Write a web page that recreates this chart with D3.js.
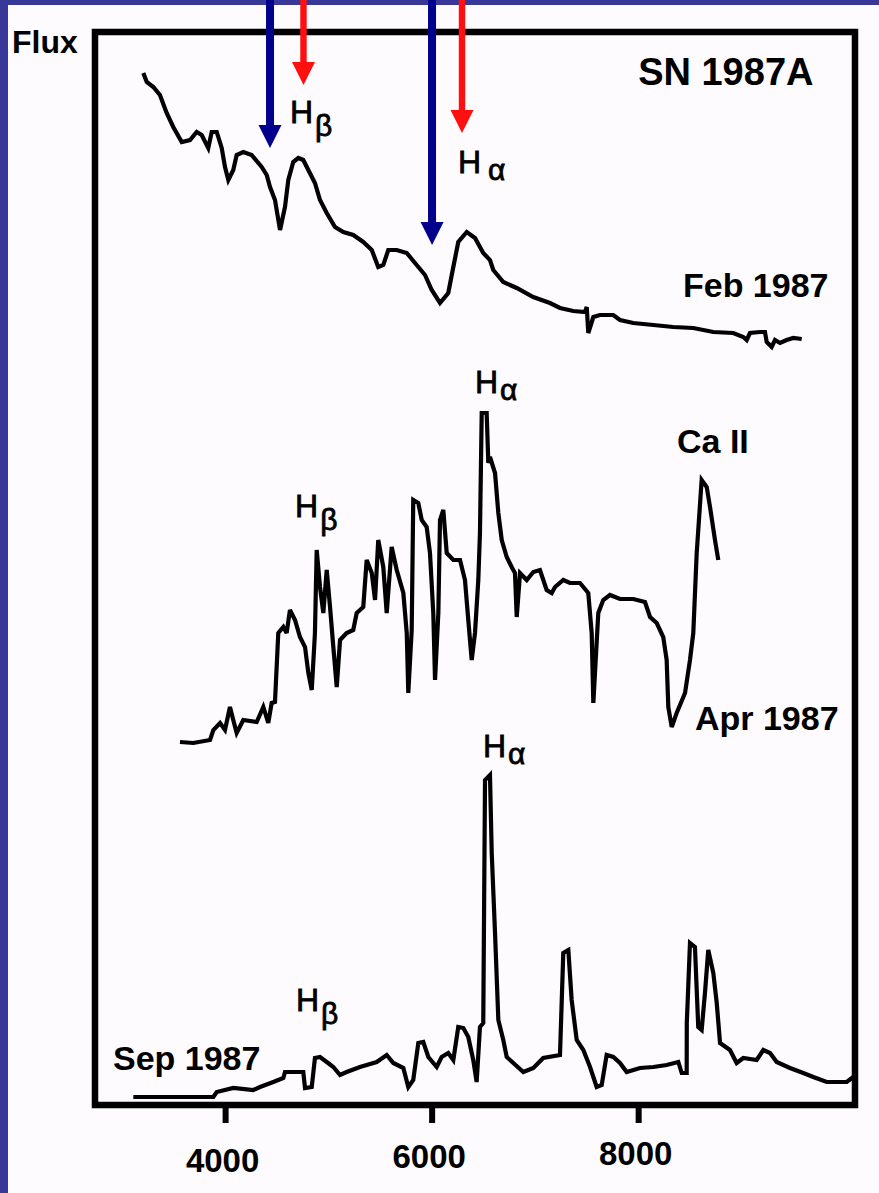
<!DOCTYPE html>
<html><head><meta charset="utf-8">
<script src="https://cdn.jsdelivr.net/npm/d3@7"></script>
<style>html,body{margin:0;padding:0;background:#fdfbfd;} svg{display:block;}</style>
</head><body>
<svg id="chart" width="879" height="1193"></svg>
<script>
// ---- data: [wavelength (Å), flux (arbitrary, stacked with offsets)] ----
const spectrumFeb = [[3208,103.2],[3241,102.3],[3305,101.8],[3369,101.0],[3434,99.2],[3498,97.8],[3580,96.3],[3660,96.5],[3725,97.3],[3773,97.0],[3837,95.7],[3870,97.3],[3919,97.3],[3967,95.7],[3999,93.8],[4031,92.5],[4079,93.5],[4112,95.0],[4176,95.3],[4257,95.0],[4354,93.8],[4403,93.0],[4435,91.8],[4483,90.5],[4532,87.5],[4580,89.8],[4612,92.5],[4660,94.3],[4709,94.7],[4757,94.5],[4806,93.5],[4870,92.2],[4919,90.5],[4984,89.2],[5064,87.8],[5145,87.3],[5241,87.0],[5338,86.3],[5420,85.5],[5483,83.8],[5532,84.0],[5580,85.5],[5662,85.5],[5759,85.2],[5855,84.0],[5936,83.0],[6001,81.5],[6081,80.2],[6161,81.2],[6210,83.8],[6258,86.3],[6340,87.3],[6420,86.7],[6500,85.2],[6565,84.5],[6597,83.5],[6694,82.3],[6824,81.7],[6984,80.8],[7146,80.2],[7243,79.7],[7372,79.4],[7485,79.3],[7502,79.8],[7517,77.2],[7566,78.8],[7630,79.0],[7759,79.0],[7824,78.5],[7953,78.2],[8147,78.0],[8340,77.8],[8534,77.7],[8728,77.3],[8921,77.2],[9018,76.8],[9051,76.5],[9083,77.2],[9180,77.3],[9228,77.3],[9245,76.3],[9293,75.8],[9325,76.5],[9374,76.2],[9438,76.5],[9502,76.7],[9584,76.6]];

const spectrumApr = [[3563,36.3],[3692,36.2],[3854,36.5],[3886,37.5],[3951,38.2],[3999,37.5],[4047,39.8],[4079,38.5],[4112,37.2],[4176,38.5],[4306,38.3],[4370,39.8],[4418,38.2],[4451,40.2],[4483,40.3],[4515,47.2],[4564,47.8],[4596,47.2],[4628,49.5],[4677,48.5],[4725,46.8],[4774,45.8],[4806,43.2],[4839,41.5],[4870,47.2],[4887,55.5],[4919,51.8],[4951,49.2],[4984,53.5],[5016,49.8],[5048,45.8],[5081,41.8],[5113,46.5],[5177,47.2],[5241,47.5],[5274,49.2],[5338,49.8],[5371,54.5],[5420,53.2],[5452,50.5],[5483,56.5],[5532,53.8],[5565,49.2],[5613,55.8],[5662,53.5],[5726,51.2],[5759,47.2],[5774,41.2],[5807,47.5],[5822,60.5],[5871,60.2],[5904,58.5],[5952,57.8],[5984,55.2],[6016,49.2],[6033,42.5],[6065,49.2],[6081,58.5],[6113,59.5],[6146,55.2],[6210,54.5],[6275,54.5],[6323,52.5],[6355,48.5],[6388,44.5],[6420,47.2],[6452,52.5],[6468,57.2],[6485,69.2],[6533,69.2],[6549,64.2],[6565,64.8],[6614,63.2],[6646,59.2],[6679,56.5],[6727,54.8],[6775,53.8],[6807,53.2],[6824,48.8],[6856,53.2],[6921,52.5],[6985,53.3],[7049,53.5],[7114,51.5],[7163,51.2],[7195,51.8],[7275,52.5],[7340,52.2],[7437,52.2],[7517,51.2],[7550,47.2],[7566,40.2],[7614,49.2],[7662,50.5],[7727,51.0],[7824,50.6],[7953,50.6],[8066,50.3],[8115,48.8],[8180,48.2],[8243,46.8],[8276,44.5],[8292,39.8],[8325,37.8],[8373,39.2],[8454,41.2],[8502,44.5],[8534,47.2],[8567,55.2],[8615,62.5],[8664,61.8],[8696,59.8],[8744,56.5],[8776,54.5]];

const spectrumSep = [[3111,0.8],[3886,0.8],[3919,1.3],[4079,1.7],[4273,1.5],[4338,1.8],[4467,2.3],[4564,2.7],[4580,3.3],[4757,3.3],[4774,1.7],[4839,1.8],[4870,4.7],[4919,4.8],[4984,4.3],[5048,3.8],[5113,3.0],[5177,3.3],[5306,3.8],[5468,4.3],[5565,5.0],[5629,4.2],[5726,3.7],[5774,1.8],[5822,2.5],[5871,6.2],[5919,6.3],[5968,4.8],[6049,3.8],[6097,4.8],[6161,5.2],[6210,4.5],[6258,7.8],[6307,7.7],[6355,6.8],[6403,4.5],[6436,2.3],[6468,7.8],[6500,8.2],[6517,32.5],[6565,33.0],[6582,25.2],[6614,17.2],[6646,8.5],[6694,6.5],[6727,4.8],[6791,4.2],[6888,3.3],[6985,3.7],[7081,4.7],[7243,5.0],[7275,15.2],[7324,15.5],[7356,10.5],[7405,6.5],[7469,5.5],[7534,3.8],[7598,1.8],[7647,2.0],[7695,5.0],[7759,4.8],[7824,4.2],[7889,3.3],[8018,3.7],[8147,3.8],[8276,4.0],[8389,4.3],[8422,3.2],[8470,3.2],[8471,8.2],[8502,16.2],[8550,15.8],[8582,7.8],[8615,7.5],[8647,11.2],[8679,15.5],[8728,13.2],[8761,10.2],[8793,6.2],[8889,5.5],[8954,4.2],[9018,4.7],[9148,4.5],[9212,5.5],[9277,5.2],[9342,4.3],[9470,3.7],[9599,3.2],[9696,2.8],[9826,2.3],[10020,2.3],[10083,2.8]];

const xTickValues = [4000, 6000, 8000];

// epoch labels: [text, wavelength, flux]
const epochLabels = [["Feb 1987", 8434, 80.8], ["Apr 1987", 8550, 37.5], ["Sep 1987", 2914, 3.5]];
// line identifications: [main, subscript, wavelength, flux]
const lineLabels = [["H","β",4628,98.2],["H","α",6255,93.2],["H","α",6420,71.2],["H","β",4677,58.8],["H","α",6497,34.8],["H","β",4686,9.4]];
const otherLabels = [["Ca II", 8376, 65.2]];
// arrows: [wavelength, tip flux, kind]  kind: "shifted" (blue) / "rest" (red)
const arrowMarks = [[4435, 95.7, "shifted"], [4759, 102.0, "rest"], [6004, 86.0, "shifted"], [6294, 97.2, "rest"]];

// ---- drawing ----
const W = 879, H = 1193;
const svg = d3.select("#chart");
const x = d3.scaleLinear().domain([2740, 10100]).range([95, 855]);
const y = d3.scaleLinear().domain([0, 107.3]).range([1105, 32]);
const FONT = "'Liberation Sans', Arial, Helvetica, sans-serif";

svg.append("rect").attr("width", W).attr("height", H).attr("fill", "#fdfbfd");
svg.append("rect").attr("x", 0).attr("y", 0).attr("width", 8).attr("height", H).attr("fill", "#383898");
svg.append("rect").attr("x", 0).attr("y", 0).attr("width", W).attr("height", 5).attr("fill", "#383898");

// spectra
const line = d3.line().x(d => x(d[0])).y(d => y(d[1])).curve(d3.curveLinear);
[spectrumFeb, spectrumApr, spectrumSep].forEach(s => {
  svg.append("path").datum(s).attr("d", line)
    .attr("fill", "none").attr("stroke", "#000").attr("stroke-width", 4.2)
    .attr("stroke-linejoin", "miter").attr("stroke-miterlimit", 3);
});

// frame
const [x0, x1] = x.range(), [yb, yt] = y.range();
svg.append("rect").attr("x", x0).attr("y", yt).attr("width", x1 - x0).attr("height", yb - yt)
  .attr("fill", "none").attr("stroke", "#000").attr("stroke-width", 6.5);

// x axis
const axis = svg.append("g").attr("transform", `translate(0,${yb})`)
  .call(d3.axisBottom(x).tickValues(xTickValues).tickSize(18).tickFormat(d3.format("d")));
axis.select(".domain").remove();
axis.selectAll(".tick line").attr("stroke", "#000").attr("stroke-width", 6);
axis.selectAll(".tick text")
  .attr("font-family", FONT).attr("font-weight", "bold").attr("font-size", 33).attr("fill", "#000")
  .attr("dy", null).attr("x", -3)
  .attr("y", d => 67 - (x(d) - x(4000)) * 0.017);

// Flux axis title
svg.append("text").attr("x", 12).attr("y", 53).text("Flux")
  .attr("font-family", FONT).attr("font-weight", "bold").attr("font-size", 32).attr("fill", "#000");

// title
svg.append("text").attr("x", x(8000)).attr("y", y(102.0)).text("SN 1987A")
  .attr("font-family", FONT).attr("font-weight", "bold").attr("font-size", 38).attr("fill", "#000");

// epoch + other labels
[...epochLabels, ...otherLabels].forEach(([t, w, f]) => {
  svg.append("text").attr("x", x(w)).attr("y", y(f)).text(t)
    .attr("font-family", FONT).attr("font-weight", "bold").attr("font-size", 34).attr("fill", "#000");
});

// line labels
lineLabels.forEach(([m, s, w, f], i) => {
  const t = svg.append("text").attr("x", x(w)).attr("y", y(f))
    .attr("font-family", FONT).attr("font-size", 32).attr("fill", "#000")
    .attr("stroke", "#000").attr("stroke-width", 0.8);
  t.append("tspan").text(m);
  t.append("tspan").text(s).attr("font-size", 30)
    .attr("dx", i === 1 ? 7 : 2).attr("dy", s === "β" ? 13 : 7);
});

// arrows
const headW = 23, headH = 23;
arrowMarks.forEach(([w, f, kind]) => {
  const cx = x(w), tip = y(f);
  const col = kind === "shifted" ? "#00008c" : "#ff1010";
  svg.append("rect").attr("x", cx - (kind === "shifted" ? 4 : 3.2)).attr("y", 0)
    .attr("width", kind === "shifted" ? 8 : 6.4).attr("height", tip - headH + 2).attr("fill", col);
  svg.append("path").attr("d", `M${cx - headW / 2},${tip - headH} L${cx + headW / 2},${tip - headH} L${cx},${tip} Z`)
    .attr("fill", col);
});
</script>
</body></html>
